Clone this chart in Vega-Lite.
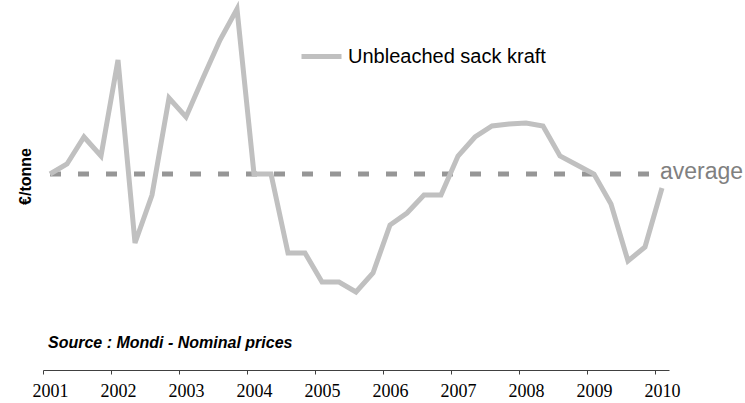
{
  "$schema": "https://vega.github.io/schema/vega-lite/v6.json",
  "autosize": {"type": "none"},
  "width": 626,
  "height": 370,
  "padding": {"left": 43, "top": 0, "right": 76, "bottom": 33},
  "background": "white",
  "config": {
    "view": {"stroke": null},
    "font": "Liberation Sans"
  },
  "datasets": {
    "series": [
      {"t": 2001.00, "v": 196}, {"t": 2001.25, "v": 206}, {"t": 2001.50, "v": 233}, {"t": 2001.75, "v": 214},
      {"t": 2002.00, "v": 310}, {"t": 2002.25, "v": 127}, {"t": 2002.50, "v": 175}, {"t": 2002.75, "v": 272},
      {"t": 2003.00, "v": 253}, {"t": 2003.25, "v": 292}, {"t": 2003.50, "v": 330}, {"t": 2003.75, "v": 361},
      {"t": 2004.00, "v": 196}, {"t": 2004.25, "v": 196}, {"t": 2004.50, "v": 117}, {"t": 2004.75, "v": 117},
      {"t": 2005.00, "v": 88}, {"t": 2005.25, "v": 88}, {"t": 2005.50, "v": 78}, {"t": 2005.75, "v": 97},
      {"t": 2006.00, "v": 145}, {"t": 2006.25, "v": 157}, {"t": 2006.50, "v": 175}, {"t": 2006.75, "v": 175},
      {"t": 2007.00, "v": 214}, {"t": 2007.25, "v": 233}, {"t": 2007.50, "v": 244}, {"t": 2007.75, "v": 246},
      {"t": 2008.00, "v": 247}, {"t": 2008.25, "v": 244}, {"t": 2008.50, "v": 214}, {"t": 2008.75, "v": 205},
      {"t": 2009.00, "v": 196}, {"t": 2009.25, "v": 166}, {"t": 2009.50, "v": 109}, {"t": 2009.75, "v": 123},
      {"t": 2010.00, "v": 182}
    ],
    "avg": [{"label": "average", "value": 196}],
    "note": [{"text": "Source : Mondi - Nominal prices"}]
  },
  "layer": [
    {
      "data": {"name": "series"},
      "mark": {"type": "rule", "color": "#969696", "strokeWidth": 5, "strokeDash": [11, 17]},
      "encoding": {
        "x": {"aggregate": "min", "field": "t", "type": "quantitative"},
        "x2": {"aggregate": "max", "field": "t"},
        "y": {"datum": 196, "type": "quantitative"}
      }
    },
    {
      "data": {"name": "series"},
      "mark": {"type": "line", "strokeWidth": 5},
      "encoding": {
        "x": {
          "field": "t", "type": "quantitative",
          "scale": {"domain": [2000.897, 2010.103], "nice": false, "zero": false},
          "axis": {
            "values": [2001, 2002, 2003, 2004, 2005, 2006, 2007, 2008, 2009, 2010],
            "format": "d", "title": null, "grid": false,
            "domainColor": "#404040", "domainWidth": 1,
            "tickColor": "#404040", "tickSize": 4, "tickOffset": -7, "labelOffset": 7,
            "labelFont": "Liberation Sans Narrow", "labelFontSize": 18, "labelColor": "#000000",
            "labelPadding": 8, "labelFlush": false, "labelOverlap": false
          }
        },
        "y": {
          "field": "v", "type": "quantitative",
          "scale": {"domain": [0, 370], "nice": false, "zero": false},
          "axis": {
            "labels": false, "ticks": false, "domain": false, "grid": false,
            "title": "€/tonne", "titleFont": "Liberation Sans", "titleFontSize": 16, "titleFontWeight": "bold",
            "titleColor": "#000000", "titleY": 176, "titleX": -10, "titleAngle": -90
          }
        },
        "color": {
          "datum": "Unbleached sack kraft",
          "scale": {"range": ["#c0c0c0"]},
          "legend": {
            "title": null, "orient": "none", "legendX": 256, "legendY": 34,
            "symbolType": "stroke", "symbolSize": 1600, "symbolStrokeWidth": 5,
            "labelFontSize": 20, "labelColor": "#000000", "labelFont": "Liberation Sans",
            "labelOffset": 4, "labelLimit": 0, "padding": 0
          }
        }
      }
    },
    {
      "data": {"name": "avg"},
      "mark": {"type": "text", "align": "left", "baseline": "alphabetic", "dx": -2, "dy": 5, "fontSize": 23, "color": "#808080", "font": "Liberation Sans"},
      "encoding": {
        "x": {"datum": 2010, "type": "quantitative"},
        "y": {"field": "value", "type": "quantitative"},
        "text": {"field": "label"}
      }
    },
    {
      "data": {"name": "note"},
      "mark": {"type": "text", "align": "left", "baseline": "middle", "dx": -2, "fontSize": 16, "fontWeight": "bold", "fontStyle": "italic", "color": "#000000", "font": "Liberation Sans"},
      "encoding": {
        "x": {"datum": 2001, "type": "quantitative"},
        "y": {"datum": 27, "type": "quantitative"},
        "text": {"field": "text"}
      }
    }
  ]
}
